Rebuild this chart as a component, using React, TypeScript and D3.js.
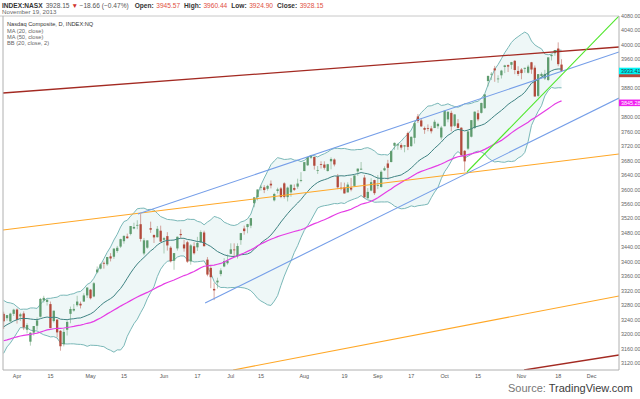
import React from "react";
import * as d3 from "d3";

// ---------- DATA ----------
const dates = [
  "2013-03-25","2013-03-26","2013-03-27","2013-03-28",
  "2013-04-01","2013-04-02","2013-04-03","2013-04-04","2013-04-05","2013-04-08","2013-04-09","2013-04-10","2013-04-11","2013-04-12","2013-04-15","2013-04-16","2013-04-17","2013-04-18","2013-04-19","2013-04-22","2013-04-23","2013-04-24","2013-04-25","2013-04-26","2013-04-29","2013-04-30",
  "2013-05-01","2013-05-02","2013-05-03","2013-05-06","2013-05-07","2013-05-08","2013-05-09","2013-05-10","2013-05-13","2013-05-14","2013-05-15","2013-05-16","2013-05-17","2013-05-20","2013-05-21","2013-05-22","2013-05-23","2013-05-24","2013-05-28","2013-05-29","2013-05-30","2013-05-31",
  "2013-06-03","2013-06-04","2013-06-05","2013-06-06","2013-06-07","2013-06-10","2013-06-11","2013-06-12","2013-06-13","2013-06-14","2013-06-17","2013-06-18","2013-06-19","2013-06-20","2013-06-21","2013-06-24","2013-06-25","2013-06-26","2013-06-27","2013-06-28",
  "2013-07-01","2013-07-02","2013-07-03","2013-07-05","2013-07-08","2013-07-09","2013-07-10","2013-07-11","2013-07-12","2013-07-15","2013-07-16","2013-07-17","2013-07-18","2013-07-19","2013-07-22","2013-07-23","2013-07-24","2013-07-25","2013-07-26","2013-07-29","2013-07-30","2013-07-31",
  "2013-08-01","2013-08-02","2013-08-05","2013-08-06","2013-08-07","2013-08-08","2013-08-09","2013-08-12","2013-08-13","2013-08-14","2013-08-15","2013-08-16","2013-08-19","2013-08-20","2013-08-21","2013-08-22","2013-08-23","2013-08-26","2013-08-27","2013-08-28","2013-08-29","2013-08-30",
  "2013-09-03","2013-09-04","2013-09-05","2013-09-06","2013-09-09","2013-09-10","2013-09-11","2013-09-12","2013-09-13","2013-09-16","2013-09-17","2013-09-18","2013-09-19","2013-09-20","2013-09-23","2013-09-24","2013-09-25","2013-09-26","2013-09-27","2013-09-30",
  "2013-10-01","2013-10-02","2013-10-03","2013-10-04","2013-10-07","2013-10-08","2013-10-09","2013-10-10","2013-10-11","2013-10-14","2013-10-15","2013-10-16","2013-10-17","2013-10-18","2013-10-21","2013-10-22","2013-10-23","2013-10-24","2013-10-25","2013-10-28","2013-10-29","2013-10-30","2013-10-31",
  "2013-11-01","2013-11-04","2013-11-05","2013-11-06","2013-11-07","2013-11-08","2013-11-11","2013-11-12","2013-11-13","2013-11-14","2013-11-15","2013-11-18","2013-11-19",
];

const opens = [
  3256, 3244, 3235, 3256,
  3268, 3249, 3257, 3212, 3179, 3204, 3223, 3248, 3293, 3289, 3283, 3236, 3240, 3209, 3172, 3212, 3256, 3265, 3280, 3284, 3290, 3307,
  3323, 3304, 3371, 3381, 3397, 3393, 3415, 3414, 3430, 3442, 3457, 3470, 3477, 3492, 3500, 3504, 3423, 3439, 3493, 3474, 3468, 3486,
  3461, 3471, 3439, 3403, 3437, 3477, 3448, 3454, 3401, 3443, 3440, 3454, 3481, 3406, 3383, 3325, 3343, 3366, 3387, 3396,
  3422, 3434, 3415, 3460, 3492, 3496, 3500, 3562, 3579, 3605, 3606, 3602, 3616, 3570, 3596, 3603, 3617, 3579, 3592, 3604, 3608, 3624,
  3651, 3667, 3688, 3690, 3654, 3670, 3669, 3651, 3678, 3683, 3637, 3605, 3606, 3592, 3605, 3610, 3650, 3655, 3633, 3576, 3597, 3626,
  3612, 3607, 3653, 3672, 3676, 3721, 3722, 3723, 3719, 3756, 3720, 3743, 3802, 3791, 3770, 3770, 3769, 3770, 3775, 3744,
  3775, 3794, 3812, 3776, 3783, 3771, 3707, 3713, 3746, 3770, 3811, 3812, 3825, 3900, 3918, 3935, 3906, 3916, 3939, 3944, 3945, 3956, 3928,
  3932, 3934, 3923, 3952, 3937, 3859, 3914, 3907, 3903, 3969, 3977, 3990, 3945.57,
];

const highs = [
  3262, 3253, 3259, 3270,
  3271, 3259, 3263, 3230, 3205, 3222, 3246, 3300, 3306, 3296, 3290, 3265, 3241, 3211, 3215, 3238, 3276, 3283, 3306, 3290, 3313, 3329,
  3325, 3344, 3387, 3396, 3401, 3413, 3424, 3437, 3444, 3464, 3473, 3478, 3499, 3508, 3515, 3532, 3466, 3460, 3511, 3476, 3499, 3500,
  3469, 3482, 3443, 3424, 3470, 3490, 3461, 3458, 3449, 3454, 3469, 3487, 3486, 3413, 3388, 3342, 3356, 3382, 3410, 3420,
  3451, 3451, 3451, 3480, 3500, 3505, 3521, 3579, 3600, 3612, 3612, 3613, 3625, 3591, 3605, 3607, 3620, 3608, 3614, 3614, 3630, 3648,
  3676, 3690, 3695, 3691, 3665, 3678, 3678, 3671, 3689, 3686, 3643, 3620, 3619, 3620, 3632, 3639, 3658, 3676, 3640, 3604, 3631, 3627,
  3640, 3653, 3664, 3682, 3708, 3730, 3727, 3728, 3723, 3760, 3747, 3789, 3809, 3797, 3774, 3780, 3776, 3793, 3785, 3776,
  3818, 3816, 3818, 3808, 3795, 3772, 3709, 3761, 3792, 3816, 3820, 3840, 3863, 3915, 3925, 3942, 3916, 3931, 3945, 3946, 3953, 3958, 3941,
  3936, 3937, 3945, 3953, 3943, 3919, 3924, 3931, 3966, 3974, 3986, 4007, 3960.44,
];

const lows = [
  3214, 3237, 3234, 3250,
  3229, 3236, 3211, 3202, 3168, 3196, 3212, 3246, 3287, 3279, 3216, 3232, 3191, 3154, 3166, 3196, 3230, 3262, 3276, 3271, 3289, 3300,
  3296, 3302, 3368, 3379, 3381, 3389, 3401, 3408, 3425, 3438, 3450, 3464, 3473, 3490, 3490, 3456, 3418, 3436, 3480, 3452, 3467, 3455,
  3423, 3431, 3398, 3378, 3431, 3465, 3428, 3397, 3392, 3420, 3430, 3452, 3442, 3360, 3327, 3294, 3326, 3360, 3385, 3392,
  3421, 3413, 3409, 3447, 3475, 3479, 3493, 3551, 3570, 3597, 3590, 3597, 3603, 3567, 3589, 3576, 3575, 3567, 3580, 3596, 3602, 3620,
  3651, 3665, 3684, 3655, 3643, 3658, 3655, 3650, 3656, 3664, 3601, 3598, 3589, 3592, 3595, 3607, 3638, 3655, 3577, 3573, 3595, 3585,
  3601, 3605, 3651, 3627, 3675, 3710, 3710, 3710, 3703, 3709, 3718, 3727, 3784, 3773, 3754, 3761, 3755, 3770, 3768, 3738,
  3775, 3786, 3761, 3773, 3769, 3692, 3650, 3709, 3744, 3767, 3789, 3810, 3823, 3885, 3903, 3898, 3895, 3907, 3922, 3925, 3933, 3919, 3914,
  3905, 3923, 3921, 3920, 3857, 3855, 3907, 3903, 3900, 3957, 3970, 3941, 3924.90,
];

const closes = [
  3235.30, 3252.48, 3256.52, 3267.52,
  3239.17, 3254.86, 3218.60, 3224.98, 3203.86, 3222.25, 3237.86, 3297.25, 3300.16, 3294.95, 3216.49, 3264.63, 3204.67, 3166.36, 3206.06, 3233.55, 3269.33, 3269.65, 3289.99, 3279.26, 3307.02, 3328.79,
  3299.13, 3340.62, 3378.63, 3392.97, 3396.63, 3413.27, 3409.17, 3436.58, 3438.79, 3462.61, 3471.62, 3465.24, 3498.97, 3496.43, 3502.12, 3463.30, 3459.42, 3459.14, 3488.89, 3467.52, 3491.30, 3455.91,
  3465.37, 3445.26, 3401.48, 3424.05, 3469.22, 3473.77, 3436.95, 3400.43, 3445.36, 3423.56, 3452.13, 3482.18, 3443.20, 3364.64, 3357.25, 3320.76, 3347.89, 3376.22, 3401.86, 3403.25,
  3434.49, 3433.40, 3443.67, 3479.38, 3484.83, 3504.26, 3520.76, 3578.30, 3600.08, 3607.49, 3598.50, 3610.00, 3611.28, 3587.61, 3600.39, 3579.27, 3579.60, 3605.19, 3613.16, 3599.14, 3616.47, 3626.37,
  3675.74, 3689.59, 3692.95, 3665.77, 3654.01, 3669.12, 3660.11, 3669.95, 3684.44, 3669.27, 3606.12, 3602.78, 3589.09, 3613.59, 3599.79, 3638.71, 3657.79, 3657.57, 3578.52, 3593.35, 3620.30, 3589.87,
  3612.61, 3649.04, 3658.78, 3660.01, 3706.18, 3729.02, 3725.01, 3715.97, 3722.18, 3717.85, 3745.70, 3783.64, 3789.38, 3774.73, 3765.29, 3768.25, 3761.10, 3787.43, 3781.59, 3771.48,
  3817.98, 3815.02, 3774.34, 3807.75, 3770.38, 3694.83, 3677.78, 3760.75, 3791.87, 3815.28, 3794.01, 3839.43, 3863.15, 3914.28, 3920.05, 3929.57, 3907.07, 3928.96, 3943.36, 3940.13, 3952.34, 3930.62, 3919.71,
  3922.04, 3936.59, 3939.86, 3931.95, 3857.33, 3919.23, 3919.79, 3919.92, 3965.58, 3972.74, 3985.97, 3946.81, 3928.15,
];

// closes before the first visible bar (needed for MA 20 / MA 50 / BB warm-up)
const priorCloses = [
  3121.76, 3125.63, 3117.50, 3110.78, 3117.54, 3136.00, 3134.71, 3143.18, 3153.67, 3130.38,
  3149.71, 3154.30, 3153.66, 3142.31, 3142.13, 3179.10, 3131.17, 3171.58, 3168.48, 3165.13,
  3193.87, 3192.00, 3186.49, 3196.88, 3198.66, 3192.03, 3213.59, 3164.41, 3131.49, 3161.82,
  3116.25, 3129.65, 3162.26, 3160.19, 3169.74, 3182.03, 3224.13, 3222.37, 3232.09, 3244.37,
  3252.87, 3242.32, 3245.12, 3258.93, 3249.07, 3237.59, 3229.10, 3254.19, 3222.60, 3245.00,
];

const xTickDates = ["2013-04-01","2013-04-15","2013-05-01","2013-05-15","2013-06-03","2013-06-17","2013-07-01","2013-07-15","2013-08-01","2013-08-19","2013-09-03","2013-09-17","2013-10-01","2013-10-15","2013-11-01","2013-11-18","2013-12-02"];
const xTickLabels = ["Apr","15","May","15","Jun","17","Jul","15","Aug","19","Sep","17","Oct","15","Nov","18","Dec"];

const yTickValues = [3120,3160,3200,3240,3280,3320,3360,3400,3440,3480,3520,3560,3600,3640,3680,3720,3760,3800,3840,3880,3920,3960,4000,4040,4080];

// trend lines: [bar index, price] -> [bar index, price]
const trendStartIdx = [-0.2, 155.8, -0.2, 68.7, 40.2, 60.3, 138.7];
const trendStartVal = [3866.9, 3100.6, 3487.9, 3100.6, 3532.2, 3286.0, 3648.4];
const trendEndIdx = [184.2, 184.2, 184.2, 184.2, 184.2, 184.2, 184.2];
const trendEndVal = [3994.2, 3142.1, 3698.2, 3305.3, 3980.3, 3853.1, 4080];
const trendKinds = ["red", "red", "orange", "orange", "blue", "blue", "green"];

const headerSymbol = "INDEX:NASX";
const headerDate = "November 19, 2013";
const legendTitle = "Nasdaq Composite, D, INDEX:NQ";
const legendItems = ["MA (20, close)", "MA (50, close)", "BB (20, close, 2)"];
const sourceLabel = "Source:";
const sourceName = "TradingView.com";

// ---------- STYLE ----------
const W = 640, H = 399;
const PL = 3, PR = 619, PT = 16, PB = 370;
const FONT = "'Liberation Sans', Arial, sans-serif";
const UP = "#5f9c6f";
const DOWN = "#b24a3c";
const trendColor: Record<string, string> = {
  red: "#a32a22",
  orange: "#ffa726",
  blue: "#759ee8",
  green: "#4fe62a",
};

export default function App() {
  const n = Math.min(dates.length, opens.length, highs.length, lows.length, closes.length);
  const x = d3.scaleLinear().domain([-0.2, 184.2]).range([PL, PR]);
  const y = d3.scaleLinear().domain([3120, 4080]).range([363, 16]);

  const all = priorCloses.concat(closes.slice(0, n));
  const off = priorCloses.length;
  const ma20: number[] = [], ma50: number[] = [], bbU: number[] = [], bbL: number[] = [];
  for (let i = 0; i < n; i++) {
    const k = i + off;
    const w20 = all.slice(Math.max(0, k - 19), k + 1);
    const w50 = all.slice(Math.max(0, k - 49), k + 1);
    const m20 = d3.mean(w20) as number;
    const m50 = d3.mean(w50) as number;
    const sd = Math.sqrt(d3.mean(w20, (v) => (v - m20) * (v - m20)) as number);
    ma20.push(m20);
    ma50.push(m50);
    bbU.push(m20 + 2 * sd);
    bbL.push(m20 - 2 * sd);
  }
  const idx = d3.range(n);
  const lineOf = (arr: number[]) =>
    d3.line<number>().x((i) => x(i)).y((i) => y(arr[i]))(idx) || "";
  const bandArea =
    d3.area<number>().x((i) => x(i)).y0((i) => y(bbL[i])).y1((i) => y(bbU[i]))(idx) || "";

  const dateIndex = (ds: string) => {
    const j = dates.indexOf(ds);
    if (j >= 0) return j;
    let d = new Date(dates[n - 1] + "T00:00:00Z");
    const target = new Date(ds + "T00:00:00Z");
    let c = n - 1;
    while (d < target) {
      d = new Date(d.getTime() + 86400000);
      const wd = d.getUTCDay();
      if (wd !== 0 && wd !== 6) c++;
    }
    return c;
  };

  const last = n - 1;
  const lastClose = closes[last];
  const chg = lastClose - closes[last - 1];
  const pct = (chg / closes[last - 1]) * 100;
  const fmt = d3.format(".2f");

  const bw = 2.3;
  const LBL_OFF = 2;
  const tagY = [y(lastClose) + LBL_OFF + 1, y(ma20[last]) + LBL_OFF, y(ma50[last]) + LBL_OFF];
  const visibleTicks = yTickValues.filter((v) => tagY.every((t) => Math.abs(y(v) - t) > 5));

  return (
    <svg width={W} height={H} style={{ position: "absolute", left: 0, top: 0, background: "#fff" }} fontFamily={FONT}>
      <defs>
        <clipPath id="plot">
          <rect x={PL} y={PT} width={PR - PL} height={PB - PT} />
        </clipPath>
      </defs>
      <rect x={0} y={0} width={W} height={H} fill="#fff" />

      <g clipPath="url(#plot)">
        <path d={bandArea} fill="#eef7f7" stroke="none" />
        <path d={lineOf(bbU)} fill="none" stroke="#7ab8b8" strokeWidth={1} />
        <path d={lineOf(bbL)} fill="none" stroke="#7ab8b8" strokeWidth={1} />

        {idx.map((i) => {
          const o = opens[i], c = closes[i];
          const h = Math.max(highs[i], o, c), l = Math.min(lows[i], o, c);
          const col = c >= o ? UP : DOWN;
          const top = y(Math.max(o, c)), bot = y(Math.min(o, c));
          return (
            <g key={i}>
              <line x1={x(i)} x2={x(i)} y1={y(h)} y2={y(l)} stroke={col} strokeOpacity={0.55} strokeWidth={0.9} />
              <rect x={x(i) - bw / 2} y={top} width={bw} height={Math.max(0.8, bot - top)} fill={col} />
            </g>
          );
        })}

        <path d={lineOf(ma20)} fill="none" stroke="#3f8383" strokeWidth={1} />
        <path d={lineOf(ma50)} fill="none" stroke="#e53de5" strokeWidth={1.2} />

        {trendKinds.map((k, j) => (
          <line
            key={j}
            x1={x(trendStartIdx[j])}
            y1={y(trendStartVal[j])}
            x2={x(trendEndIdx[j])}
            y2={y(trendEndVal[j])}
            stroke={trendColor[k]}
            strokeWidth={k === "red" ? 1.3 : 1.1}
          />
        ))}
      </g>

      {/* frame */}
      <line x1={0} x2={PR} y1={PT} y2={PT} stroke="#c8c8c8" strokeWidth={1} />
      <line x1={PL} x2={PL} y1={PT} y2={PB} stroke="#b0b0b0" strokeWidth={1} />
      <line x1={PL} x2={PR} y1={PB} y2={PB} stroke="#b0b0b0" strokeWidth={1} />
      <line x1={PR} x2={PR} y1={PT} y2={PB} stroke="#b0b0b0" strokeWidth={1} />

      {/* y axis labels */}
      {visibleTicks.map((v) => (
        <text key={v} x={621} y={y(v) + 2} fontSize={5.4} fill="#666">
          {fmt(v)}
        </text>
      ))}

      {/* value tags: close (hidden under MA20 tag), MA20, MA50 */}
      <rect x={PR} y={tagY[0] - 3.3} width={21} height={6.6} fill="#b8473a" />
      <rect x={PR} y={tagY[1] - 3.3} width={21} height={6.6} fill="#00f4f4" />
      <text x={621} y={tagY[1] + 2} fontSize={5.4} fill="#234">{fmt(ma20[last])}</text>
      <rect x={PR} y={tagY[2] - 3.3} width={21} height={6.6} fill="#f020f0" />
      <text x={621} y={tagY[2] + 2} fontSize={5.4} fill="#fff">{fmt(ma50[last])}</text>

      {/* x axis labels */}
      {xTickDates.map((d, j) => (
        <text key={d} x={x(dateIndex(d))} y={378} fontSize={5.4} fill="#555" textAnchor="middle">
          {xTickLabels[j]}
        </text>
      ))}

      {/* header */}
      <text x={2} y={7.5} fontSize={6.6} fill="#555">
        <tspan fontWeight="bold" fill="#333">{headerSymbol}</tspan>
        <tspan dx={3}>{fmt(lastClose)}</tspan>
        <tspan dx={2} fill="#d0342c">▼</tspan>
        <tspan dx={1.5}>{fmt(chg)} ({fmt(pct)}%)</tspan>
        <tspan dx={6} fontWeight="bold" fill="#333">Open:</tspan>
        <tspan dx={2.5} fill="#e0503f">{fmt(opens[last])}</tspan>
        <tspan dx={4} fontWeight="bold" fill="#333">High:</tspan>
        <tspan dx={2.5} fill="#e0503f">{fmt(highs[last])}</tspan>
        <tspan dx={4} fontWeight="bold" fill="#333">Low:</tspan>
        <tspan dx={2.5} fill="#e0503f">{fmt(lows[last])}</tspan>
        <tspan dx={4} fontWeight="bold" fill="#333">Close:</tspan>
        <tspan dx={2.5} fill="#e0503f">{fmt(lastClose)}</tspan>
      </text>
      <text x={2} y={13.5} fontSize={6.2} fill="#666">{headerDate}</text>

      {/* legend */}
      <text x={7} y={26} fontSize={5.7} fill="#333">{legendTitle}</text>
      {legendItems.map((t, j) => (
        <text key={t} x={7} y={32.6 + j * 6} fontSize={5.7} fill="#666">{t}</text>
      ))}

      {/* source */}
      <text x={508} y={392} fontSize={11} fontFamily={FONT}>
        <tspan fill="#777">{sourceLabel}</tspan>
        <tspan fill="#3c3c3c"> {sourceName}</tspan>
      </text>
    </svg>
  );
}
